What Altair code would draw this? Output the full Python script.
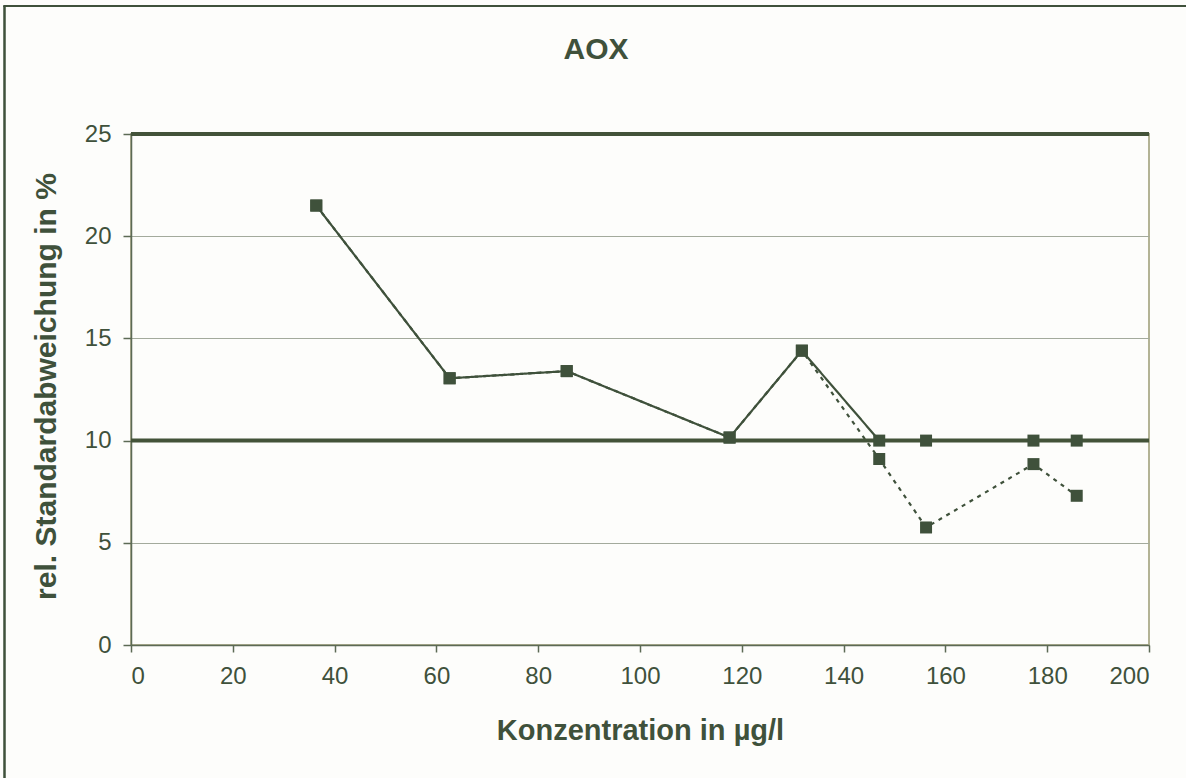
import altair as alt
import pandas as pd

# Konzentration in µg/l
konzentration = [36.4, 62.6, 85.6, 117.6, 131.8, 147.0, 156.2, 177.3, 185.8]
# gemessene relative Standardabweichung in %
rsd_gemessen = [21.5, 13.05, 13.4, 10.15, 14.4, 9.1, 5.75, 8.85, 7.3]
# auf mindestens 10 % angehobene Werte
rsd_begrenzt = [21.5, 13.05, 13.4, 10.15, 14.4, 10.0, 10.0, 10.0, 10.0]
# Grenzlinien
grenzen = [10, 25]

x_ticks = list(range(0, 201, 20))
y_ticks = list(range(0, 26, 5))

DARK = "#3f513b"
AXIS = "#5c6a55"
GRID = "#a3aa9c"
FONT = "Liberation Sans"

df = pd.DataFrame({
    "x": konzentration * 2,
    "y": rsd_gemessen + rsd_begrenzt,
    "serie": ["gemessen"] * len(konzentration) + ["begrenzt"] * len(konzentration),
})
df_g = pd.DataFrame({"g": grenzen})

x_enc = alt.X(
    "x:Q",
    scale=alt.Scale(domain=[0, 200], nice=False),
    axis=alt.Axis(
        values=x_ticks,
        title="Konzentration in µg/l",
        grid=False,
        labelFontSize=24,
        labelFont=FONT,
        labelColor=DARK,
        labelPadding=12,
        tickSize=7,
        tickColor=AXIS,
        tickWidth=1.5,
        domainColor=AXIS,
        domainWidth=1.5,
        titleFont=FONT,
        titleFontSize=29,
        titleFontWeight="bold",
        titleColor=DARK,
        titlePadding=28,
    ),
)
y_enc = alt.Y(
    "y:Q",
    scale=alt.Scale(domain=[0, 25], nice=False),
    axis=alt.Axis(
        values=y_ticks,
        title="rel. Standardabweichung in %",
        grid=True,
        gridColor=GRID,
        gridWidth=1,
        labelFontSize=24,
        labelFont=FONT,
        labelColor=DARK,
        labelPadding=12,
        tickSize=8,
        tickColor=AXIS,
        tickWidth=1.5,
        domainColor=AXIS,
        domainWidth=1.5,
        titleFont=FONT,
        titleFontSize=30,
        titleFontWeight="bold",
        titleColor=DARK,
        titleAngle=-90,
        titleAlign="center",
        titleBaseline="middle",
        titleX=-85,
        titleY=252,
    ),
)

linien = alt.Chart(df).mark_line(color=DARK, strokeWidth=2.2).encode(
    x=x_enc,
    y=y_enc,
    detail="serie:N",
    strokeDash=alt.StrokeDash(
        "serie:N",
        scale=alt.Scale(domain=["begrenzt", "gemessen"], range=[[1, 0], [4, 5]]),
        legend=None,
    ),
)

grenzlinien = alt.Chart(df_g).mark_rule(color="#435339", strokeWidth=4).encode(
    y=alt.Y("g:Q", scale=alt.Scale(domain=[0, 25], nice=False)),
)

punkte = alt.Chart(df).mark_point(
    shape="square", filled=True, size=144, color=DARK, opacity=1
).encode(x="x:Q", y="y:Q")

# Rahmen oben und links
rahmen_links = alt.Chart(df_g).mark_rule(color=DARK, strokeWidth=2).encode(
    x=alt.value(-126.5), y=alt.value(-128), y2=alt.value(644)
)
rahmen_oben = alt.Chart(df_g).mark_rule(color=DARK, strokeWidth=2).encode(
    x=alt.value(-127.5), x2=alt.value(1055), y=alt.value(-128)
)

chart = (
    alt.layer(linien, grenzlinien, punkte, rahmen_links, rahmen_oben)
    .properties(
        width=1018,
        height=511,
        title=alt.Title(
            "AOX",
            font=FONT,
            fontSize=30,
            fontWeight="bold",
            color=DARK,
            anchor="middle",
            baseline="alphabetic",
            dx=-44,
            offset=-84,
        ),
        autosize=alt.AutoSizeParams(type="none"),
        padding={"left": 131, "top": 134, "right": 37, "bottom": 133},
        background="#fdfdfb",
    )
    .configure_view(stroke="#b3b395", strokeWidth=2)
)

chart.save("out.html", embed_options={"renderer": "svg", "actions": False})
